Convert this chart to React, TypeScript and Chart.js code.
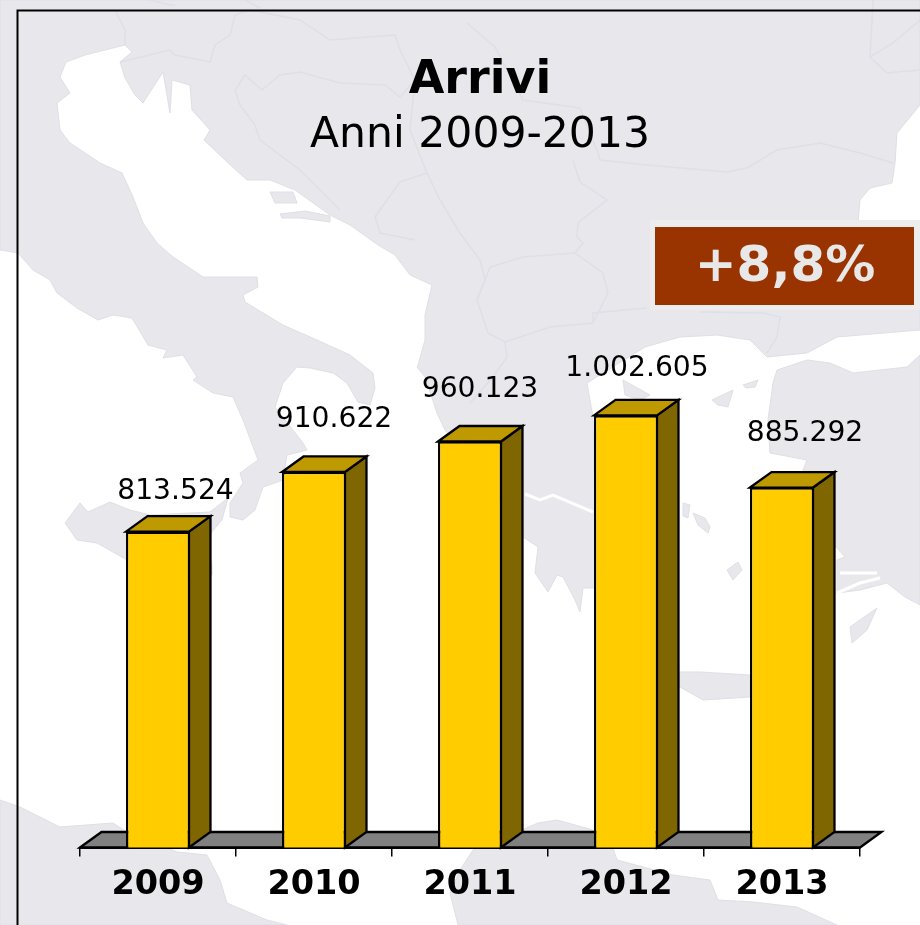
import { useEffect, useRef } from "react";
import { Chart, registerables } from "chart.js";

Chart.register(...registerables);

const years = ["2009", "2010", "2011", "2012", "2013"];
const arrivals = [813524, 910622, 960123, 1002605, 885292];
const titleText = "Arrivi";
const subtitleText = "Anni 2009-2013";
const changeText = "+8,8%";

const labelDx = [17.5, 20, 10, 11, 23];
const labelDy = [40, 52, 51.5, 47, 54];
const depthX = 21.5;
const depthY = 15.5;

const FONT = '"DejaVu Sans", Verdana, sans-serif';
const LAND = "#e8e7ec";
const LINE = "#dfdfe6";

const fmt = (v: number) => String(v).replace(/\B(?=(\d{3})+(?!\d))/g, ".");

// Decorative map backdrop
const landMain =
  "0,0 920,0 920,105 897,133 895,163 892,183 870,188 860,200 858,222 920,222 920,330 837,337 807,353 767,357 750,340 717,335 680,337 645,347 587,383 593,417 595,512 595,588 583,588 580,612 575,600 563,577 557,575 548,592 535,573 538,547 523,537 500,500 445,430 437,413 425,377 417,367 418,365 425,340 425,315 432,285 410,275 395,255 378,245 350,225 330,215 295,190 270,180 247,180 225,160 204,140 210,130 192,110 190,85 172,80 170,113 163,72 150,92 143,103 135,95 125,78 120,62 132,52 125,45 105,50 85,55 66,62 60,77 70,93 57,103 60,130 70,143 100,163 122,173 133,197 143,223 157,243 173,257 203,277 257,277 258,287 243,295 245,302 283,325 317,340 350,355 373,373 375,388 370,405 358,402 347,383 333,373 310,368 297,367 283,383 275,407 303,443 307,450 287,455 283,480 263,487 255,510 243,520 230,517 230,503 243,483 240,473 258,460 243,420 233,397 213,393 193,380 197,377 183,355 163,358 167,350 148,345 132,318 113,315 98,320 77,308 57,293 50,280 33,270 18,253 0,250";
const landOther = [
  "65,523 80,503 88,512 110,502 130,510 150,515 210,512 228,498 222,520 205,540 212,565 212,575 190,580 127,560 97,543 77,540",
  "0,800 20,807 60,827 113,823 127,832 177,852 207,855 220,880 227,903 267,920 287,925 0,925",
  "458,925 450,893 460,870 473,850 538,823 557,820 593,830 613,848 617,860 673,875 710,880 718,900 753,902 797,907 837,925",
  "777,370 807,360 830,363 853,373 907,367 920,355 920,605 905,597 887,583 860,590 837,593 837,560 845,557 830,540 803,470 807,460 770,453 768,420 773,383",
  "850,627 877,608 867,630 852,643",
  "658,672 700,672 750,675 750,697 703,700 680,687 658,685",
  "727,570 738,562 742,570 733,580",
  "683,503 690,505 688,518 683,516",
  "693,513 705,518 710,527 708,533 698,525",
  "712,400 733,390 728,407 718,405",
  "743,385 758,380 755,387 746,388",
  "623,380 650,395 640,400 625,395",
  "270,192 293,192 297,203 275,203",
  "280,214 305,211 330,216 330,222 300,218 282,218",
];
const whiteStrips = [
  "525,494 540,500 553,495 593,512",
  "840,573 877,573",
  "837,593 860,583 880,578",
];
const borders = [
  "115,10 125,30 125,45",
  "120,62 170,50 175,55 210,62 215,45 230,35 235,15 250,10 300,20 330,40 395,35 400,50 415,80 400,97",
  "240,105 235,90 245,75 262,90 280,75 300,72 340,83 385,85 400,97",
  "240,105 255,125 260,140 300,170 320,190 340,210",
  "415,80 410,130 427,173 400,182 387,200 375,217 380,233 415,240",
  "598,153 600,160 647,165 727,172 747,168 777,150 820,143 860,153 893,163",
  "573,160 580,182 607,200 578,223 577,237 583,243 575,253",
  "467,23 495,47 523,100 580,108 598,153",
  "873,0 870,57 887,73 920,70",
  "920,20 893,43 870,57",
  "575,253 603,273 608,293 593,323 550,327 505,342 488,333 477,300 490,267 523,257 575,253",
  "593,323 593,313 647,308",
  "700,312 763,313 780,317 777,337 767,353",
  "505,342 507,357 493,377 470,403",
  "460,233 480,260 485,280 477,300",
  "460,233 440,200 427,173",
  "150,0 170,5 175,5",
  "245,0 260,8",
];

export default function App() {
  const ref = useRef<HTMLCanvasElement | null>(null);

  useEffect(() => {
    const canvas = ref.current;
    if (!canvas) return;

    const bars3d = {
      id: "bars3d",
      beforeDatasetsDraw(chart: any) {
        const { ctx, chartArea } = chart;
        const b = chartArea.bottom;
        ctx.save();
        ctx.lineWidth = 2.3;
        ctx.strokeStyle = "#000";
        ctx.lineJoin = "miter";
        // floor
        ctx.fillStyle = "#808080";
        ctx.beginPath();
        ctx.moveTo(chartArea.left, b);
        ctx.lineTo(chartArea.left + depthX, b - depthY);
        ctx.lineTo(chartArea.right + depthX, b - depthY);
        ctx.lineTo(chartArea.right, b);
        ctx.closePath();
        ctx.fill();
        ctx.stroke();
        // sides and tops of each bar
        chart.getDatasetMeta(0).data.forEach((el: any) => {
          const l = el.x - el.width / 2;
          const r = el.x + el.width / 2 - 1;
          const t = el.y;
          ctx.fillStyle = "#806600";
          ctx.beginPath();
          ctx.moveTo(r, b);
          ctx.lineTo(r + depthX, b - depthY);
          ctx.lineTo(r + depthX, t - depthY);
          ctx.lineTo(r, t);
          ctx.closePath();
          ctx.fill();
          ctx.stroke();
          ctx.fillStyle = "#bf9900";
          ctx.beginPath();
          ctx.moveTo(l, t);
          ctx.lineTo(l + depthX, t - depthY);
          ctx.lineTo(r + depthX, t - depthY);
          ctx.lineTo(r, t);
          ctx.closePath();
          ctx.fill();
          ctx.stroke();
        });
        ctx.restore();
      },
      afterDatasetsDraw(chart: any) {
        const { ctx } = chart;
        ctx.save();
        ctx.font = `28.2px ${FONT}`;
        ctx.fillStyle = "#000";
        ctx.textAlign = "center";
        ctx.textBaseline = "middle";
        chart.getDatasetMeta(0).data.forEach((el: any, i: number) => {
          ctx.fillText(fmt(arrivals[i]), el.x + labelDx[i], el.y - labelDy[i]);
        });
        ctx.restore();
      },
      afterDraw(chart: any) {
        const { ctx } = chart;
        ctx.save();
        ctx.fillStyle = "#ededee";
        ctx.fillRect(650, 220, 270, 90);
        ctx.fillStyle = "#993300";
        ctx.fillRect(655, 227, 259, 78);
        ctx.fillStyle = "#e8e8e8";
        ctx.font = `bold 50px ${FONT}`;
        ctx.textAlign = "center";
        ctx.textBaseline = "middle";
        ctx.fillText(changeText, 785, 268);
        ctx.restore();
      },
    };

    const chart = new Chart(canvas, {
      type: "bar",
      data: {
        labels: years,
        datasets: [
          {
            data: arrivals,
            backgroundColor: "#ffcc00",
            borderColor: "#000",
            borderWidth: 2.3,
            borderSkipped: false,
            barPercentage: 0.41,
            categoryPercentage: 1,
          },
        ],
      },
      options: {
        responsive: false,
        animation: false,
        devicePixelRatio: 1,
        layout: { padding: { left: 40, right: 0, top: 0, bottom: 0 } },
        plugins: {
          legend: { display: false },
          tooltip: { enabled: false },
          title: {
            display: true,
            text: titleText,
            color: "#000",
            font: { family: FONT, size: 46, weight: "bold", lineHeight: 1 },
            padding: { top: 58, bottom: 0 },
          },
          subtitle: {
            display: true,
            text: subtitleText,
            color: "#000",
            font: { family: FONT, size: 42.5, weight: "normal", lineHeight: 1 },
            padding: { top: 11, bottom: 198 },
          },
        },
        scales: {
          x: {
            afterFit: (s: any) => {
              s.height = 77.5;
            },
            grid: {
              display: true,
              drawOnChartArea: false,
              drawTicks: true,
              tickLength: 9,
              color: "#000",
              lineWidth: 1.5,
            },
            border: { display: true, color: "#000", width: 2 },
            ticks: {
              color: "#000",
              font: { family: FONT, size: 33.5, weight: "bold" },
              padding: 9,
              maxRotation: 0,
              autoSkip: false,
            },
          },
          y: {
            min: 300000,
            max: 1100000,
            afterFit: (s: any) => {
              s.width = 40;
            },
            grid: { display: false },
            border: { display: false },
            ticks: { display: false },
          },
          y1: {
            position: "right",
            min: 0,
            max: 1,
            afterFit: (s: any) => {
              s.width = 60;
            },
            grid: { display: false },
            border: { display: false },
            ticks: { display: false },
          },
        },
      } as any,
      plugins: [bars3d],
    });
    return () => chart.destroy();
  }, []);

  return (
    <div style={{ position: "absolute", left: 0, top: 0, width: 920, height: 925, overflow: "hidden", background: "#fff" }}>
      <svg width={920} height={925} style={{ position: "absolute", left: 0, top: 0 }}>
        <polygon points={landMain} fill={LAND} stroke={LINE} strokeWidth={1} />
        {landOther.map((p, i) => (
          <polygon key={i} points={p} fill={LAND} stroke={LINE} strokeWidth={1} />
        ))}
        {whiteStrips.map((p, i) => (
          <polyline key={i} points={p} fill="none" stroke="#fff" strokeWidth={3} />
        ))}
        {borders.map((p, i) => (
          <polyline key={i} points={p} fill="none" stroke={LINE} strokeWidth={1.5} />
        ))}
        <path d="M17.5 925V10.5H920" fill="none" stroke="#000" strokeWidth={2} />
      </svg>
      <canvas ref={ref} width={920} height={925} style={{ position: "absolute", left: 0, top: 0, display: "block" }} />
    </div>
  );
}
